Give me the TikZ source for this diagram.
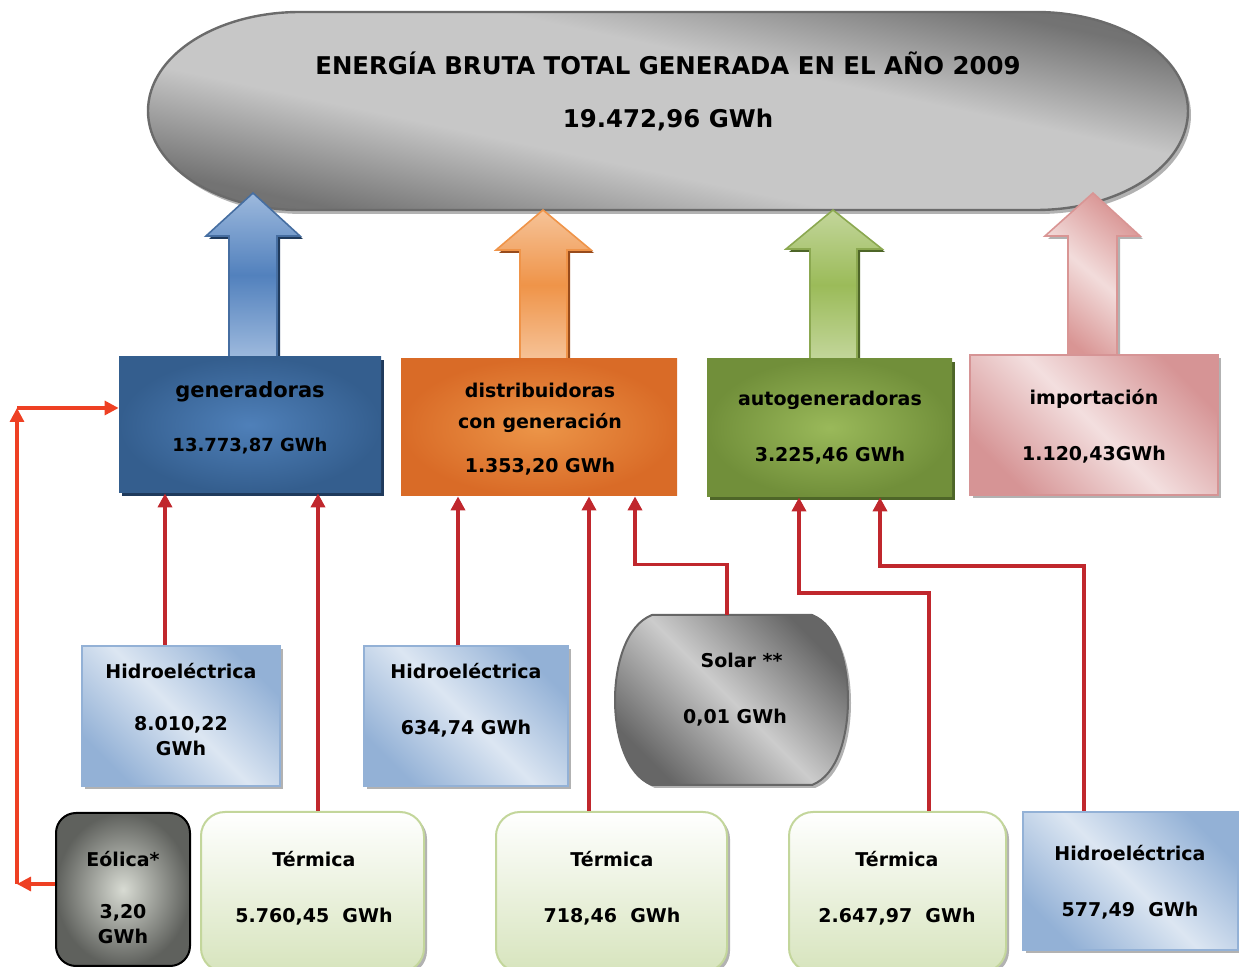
\documentclass[tikz,border=0pt]{standalone}
\usepackage{fontspec}
\setmainfont{DejaVu Sans}
\usetikzlibrary{arrows.meta, fit, shadows}

\definecolor{genDark}{HTML}{345E8E}
\definecolor{genLight}{HTML}{4F80B9}
\definecolor{genShade}{HTML}{1F3A5C}
\definecolor{disDark}{HTML}{D96B27}
\definecolor{disLight}{HTML}{EC9548}
\definecolor{autDark}{HTML}{718F3A}
\definecolor{autLight}{HTML}{9AB95A}
\definecolor{autShade}{HTML}{4E6628}
\definecolor{impDark}{HTML}{D69495}
\definecolor{impLight}{HTML}{F3DFDF}
\definecolor{hydDark}{HTML}{93B1D6}
\definecolor{hydLight}{HTML}{DCE6F2}
\definecolor{terEdge}{HTML}{C3D69B}
\definecolor{terFill}{HTML}{D7E4BD}
\definecolor{eolDark}{HTML}{5F615D}
\definecolor{eolLight}{HTML}{D8DBD3}
\definecolor{feedRed}{HTML}{C0272D}
\definecolor{windRed}{HTML}{EE4023}
\definecolor{arBlue}{HTML}{5281BD}
\definecolor{arBlueL}{HTML}{9DB9DD}
\definecolor{arOrange}{HTML}{EF9449}
\definecolor{arOrangeL}{HTML}{F6C398}
\definecolor{arGreen}{HTML}{9BBB59}
\definecolor{arGreenL}{HTML}{C3D69B}
\definecolor{arPink}{HTML}{D99594}
\definecolor{arPinkL}{HTML}{F2DCDB}

% grey capsule: dark corners, wide light band
\pgfdeclareverticalshading{capsule}{100bp}{color(0bp)=(black!58); color(26bp)=(black!55);
  color(41bp)=(black!22); color(59bp)=(black!22); color(74bp)=(black!55); color(100bp)=(black!58)}

\begin{document}
\begin{tikzpicture}[
    x=0.5pt,
    y=-0.5pt,
    txt/.style={font=\bfseries\fontsize{9.5}{11}\selectfont, align=center, inner sep=0pt},
    box/.style={rectangle, inner sep=0pt},
    feed/.style={line width=1.8pt, feedRed, -{Triangle[width=7pt,length=7pt]}},
    wind/.style={line width=1.6pt, windRed, -{Triangle[width=7pt,length=7pt]}},
    lightshade/.style={drop shadow={shadow xshift=1.5pt, shadow yshift=-1.5pt, fill=black!30, opacity=1}},
    hydro/.style={box, draw=hydDark, line width=1pt, top color=hydDark, bottom color=hydDark,
      middle color=hydLight, shading angle=-45, lightshade},
    therm/.style={box, draw=terEdge, line width=1pt, rounded corners=12pt, top color=white,
      bottom color=terFill, lightshade},
    bigarrow/.style={line width=0.8pt, line join=miter},
  ]
  \useasboundingbox (0,0) rectangle (1239,967);
  \clip (0,0) rectangle (1239,967);

  % total
  \draw[draw=black!58, line width=1.2pt, shading=capsule, shading angle=-12,
    drop shadow={shadow xshift=1.5pt, shadow yshift=-2pt, fill=black!30, opacity=1}]
    (300,12) -- (1036,12) .. controls (1120,12) and (1188,56) .. (1188,111)
    .. controls (1188,166) and (1120,210) .. (1036,210) -- (300,210)
    .. controls (216,210) and (148,166) .. (148,111) .. controls (148,56) and (216,12) .. (300,12) -- cycle;
  \node[txt, font=\bfseries\fontsize{12.2}{14}\selectfont] (tTotal) at (668,91)
    {ENERGÍA BRUTA TOTAL GENERADA EN EL AÑO 2009\\[12.5pt]19.472,96 GWh};

  % big arrows
  \draw[bigarrow, draw=arBlue!85!black, top color=arBlueL, bottom color=arBlueL, middle color=arBlue,
    drop shadow={shadow xshift=1.5pt, shadow yshift=-1.5pt, fill=genShade, opacity=1}]
    (229,357) -- (229,236) -- (206,236) -- (253,193) -- (300,236) -- (277,236) -- (277,357) -- cycle;
  \draw[bigarrow, draw=arOrange, top color=arOrangeL, bottom color=arOrangeL, middle color=arOrange,
    drop shadow={shadow xshift=1.5pt, shadow yshift=-1.5pt, fill=disDark!70!black, opacity=1}]
    (520,360) -- (520,250) -- (496,250) -- (543,210) -- (591,250) -- (567,250) -- (567,360) -- cycle;
  \draw[bigarrow, draw=arGreen!90!black, top color=arGreenL, bottom color=arGreenL, middle color=arGreen,
    drop shadow={shadow xshift=1.5pt, shadow yshift=-1.5pt, fill=autShade, opacity=1}]
    (810,360) -- (810,249) -- (786,249) -- (833,210) -- (882,249) -- (857,249) -- (857,360) -- cycle;
  \draw[bigarrow, draw=arPink, top color=arPink, bottom color=arPink, middle color=arPinkL, shading angle=-40,
    lightshade]
    (1068,356) -- (1068,236) -- (1045,236) -- (1093,193) -- (1140,236) -- (1117,236) -- (1117,356) -- cycle;

  % companies
  \node[box, fit={(119,357) (381,493)}, inner color=genLight, outer color=genDark,
    drop shadow={shadow xshift=1.5pt, shadow yshift=-1.5pt, fill=genShade, opacity=1}] (gen) {};
  \node[box, fit={(401,359) (677,496)}, inner color=disLight, outer color=disDark] (dist) {};
  \node[box, fit={(707,359) (952,497)}, inner color=autLight, outer color=autDark,
    drop shadow={shadow xshift=1.5pt, shadow yshift=-1.5pt, fill=autShade, opacity=1}] (auto) {};
  \node[box, fit={(970,355) (1218,495)}, draw=impDark, line width=1pt, top color=impDark,
    bottom color=impDark, middle color=impLight, shading angle=-45, lightshade] (imp) {};
  \node[txt] (tGen) at (250,418)
    {{\fontsize{10.5}{12}\selectfont generadoras}\\[16pt]{\fontsize{9}{11}\selectfont 13.773,87 GWh}};
  \node[txt] (tDist) at (540,429) {distribuidoras\\[4.5pt]con generación\\[11pt]1.353,20 GWh};
  \node[txt] (tAuto) at (830,428) {autogeneradoras\\[17pt]3.225,46 GWh};
  \node[txt] (tImp) at (1094,426) {importación\\[17pt]1.120,43GWh};

  % sources
  \node[hydro, fit={(82,646) (280,786)}] (hidA) {};
  \node[hydro, fit={(364,646) (568,786)}] (hidB) {};
  \node[hydro, fit={(1023,812) (1238,950)}] (hidC) {};
  \node[therm, fit={(201,812) (424,972)}] (terA) {};
  \node[therm, fit={(496,812) (727,972)}] (terB) {};
  \node[therm, fit={(789,812) (1006,972)}] (terC) {};
  \node[box, fit={(56,813) (190,966)}, draw=black, line width=1pt, rounded corners=10pt,
    inner color=eolLight, outer color=eolDark] (eol) {};
  \draw[draw=black!60, line width=1pt, top color=black!60, bottom color=black!60, middle color=black!20,
    shading angle=-45, lightshade]
    (652,615) -- (812,615) .. controls (838,625) and (848,665) .. (848,700)
    .. controls (848,735) and (838,775) .. (812,785) -- (652,785)
    .. controls (626,775) and (615,735) .. (615,700) .. controls (615,665) and (626,625) .. (652,615) -- cycle;
  \node[box, fit={(615,615) (848,785)}] (solar) {};

  \node[txt] (tHidA) at (181,710) {Hidroeléctrica\\[15pt]8.010,22\\[1.5pt]GWh};
  \node[txt] (tHidB) at (466,700) {Hidroeléctrica\\[17pt]634,74 GWh};
  \node[txt] (tHidC) at (1130,882) {Hidroeléctrica\\[17pt]577,49\ \ GWh};
  \node[txt] (tTerA) at (314,888) {Térmica\\[17pt]5.760,45\ \ GWh};
  \node[txt] (tTerB) at (612,888) {Térmica\\[17pt]718,46\ \ GWh};
  \node[txt] (tTerC) at (897,888) {Térmica\\[17pt]2.647,97\ \ GWh};
  \node[txt] (tEol) at (123,898) {Eólica*\\[15pt]3,20\\[1.5pt]GWh};
  \node[txt] (tSolar) at (735,690) {\ \ Solar **\\[17pt]0,01 GWh};

  % feeds
  \draw[feed] ([xshift=-8pt]hidA.north) -- ([xshift=-8pt]hidA.north |- gen.south);
  \draw[feed] ([xshift=2.75pt]terA.north) -- ([xshift=2.75pt]terA.north |- gen.south);
  \draw[feed] ([xshift=-4pt]hidB.north) -- ([xshift=-4pt]hidB.north |- dist.south);
  \draw[feed] ([xshift=-11.25pt]terB.north) -- ([xshift=-11.25pt]terB.north |- dist.south);
  \draw[feed] ([xshift=-2.25pt]solar.north) -- ++(0,-50) -| ([xshift=48pt]dist.south);
  \draw[feed] ([xshift=15.75pt]terC.north) -- ++(0,-218) -| ([xshift=-15.25pt]auto.south);
  \draw[feed] ([xshift=-23.25pt]hidC.north) -- ++(0,-245) -| ([xshift=25.25pt]auto.south);

  % wind
  \coordinate (windLow) at (17,884);
  \coordinate (windTop) at (17,408);
  \draw[wind] ([yshift=2.75pt]eol.west) -- (windLow);
  \draw[wind] (windLow) -- (windTop);
  \draw[wind] (windTop) -- (windTop -| gen.west);
\end{tikzpicture}
\end{document}
